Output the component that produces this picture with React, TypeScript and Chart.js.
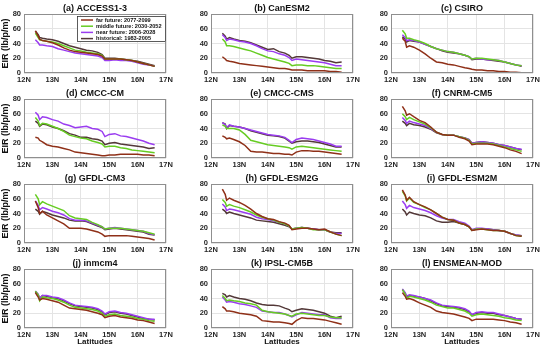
import React, { useEffect, useRef } from "react";
import { Chart, registerables } from "chart.js";
Chart.register(...registerables);

// ---------- data ----------
const latitudes = [12.4, 12.5, 12.55, 12.65, 12.8, 13.0, 13.2, 13.4, 13.6, 13.8, 14.0, 14.2, 14.4, 14.6, 14.75, 14.85, 15.0, 15.2, 15.4, 15.6, 15.8, 16.0, 16.2, 16.4, 16.6];
const xTicks = [12, 13, 14, 15, 16, 17];
const yTicks = [0, 20, 40, 60, 80];
const panelTitles = ["(a) ACCESS1-3", "(b) CanESM2", "(c) CSIRO", "(d) CMCC-CM", "(e) CMCC-CMS", "(f) CNRM-CM5", "(g) GFDL-CM3", "(h) GFDL-ESM2G", "(i) GFDL-ESM2M", "(j) inmcm4", "(k) IPSL-CM5B", "(l) ENSMEAN-MOD"];
const seriesLabels = ["far future: 2077-2099", "middle future: 2030-2052", "near future: 2006-2028", "historical: 1983-2005"];
const seriesColors = ["#8f3018", "#66cc22", "#9a3cf0", "#533838"];

// far future: 2077-2099 (one row per panel a..l)
const farFuture = [
  [57, 50, 46, 44, 43, 41, 38, 34, 31, 29, 28, 27, 26, 25, 23, 19, 19, 19, 19, 18, 17, 15, 13, 11, 9],
  [22, 19, 17, 16, 15, 13, 12, 11, 10, 9, 8, 7, 6, 6, 5, 4, 4, 4, 3, 3, 3, 3, 2, 2, 1],
  [47, 43, 35, 37, 35, 31, 26, 20, 15, 14, 12, 11, 9, 7, 6, 5, 4, 4, 3, 3, 2, 2, 1, 1, 0.5],
  [28, 27, 24, 22, 18, 16, 15, 13, 11, 8, 7, 6, 5, 4, 3, 3, 4, 4, 5, 5, 5, 5, 4, 4, 3],
  [30, 28, 26, 27, 25, 22, 17, 9, 8, 8, 7, 6, 6, 5, 5, 4, 8, 10, 10, 9, 9, 8, 7, 6, 5],
  [70, 64, 58, 60, 56, 51, 48, 42, 35, 32, 31, 31, 28, 26, 23, 18, 19, 19, 19, 18, 16, 14, 11, 9, 6],
  [57, 48, 40, 43, 38, 34, 30, 26, 20, 20, 20, 19, 17, 15, 12, 9, 10, 10, 10, 10, 9, 8, 7, 6, 4],
  [73, 66, 58, 61, 58, 55, 51, 46, 40, 36, 33, 32, 29, 27, 24, 18, 19, 20, 20, 19, 18, 19, 15, 12, 10],
  [72, 65, 58, 62, 56, 52, 49, 45, 40, 35, 32, 31, 27, 25, 22, 17, 18, 19, 18, 17, 17, 16, 13, 10, 9],
  [48, 42, 38, 40, 39, 37, 35, 31, 27, 26, 25, 24, 22, 20, 18, 14, 16, 17, 15, 14, 13, 11, 10, 8, 6],
  [29, 26, 23, 23, 22, 20, 19, 18, 16, 10, 9, 8, 8, 7, 6, 5, 10, 14, 13, 13, 12, 11, 9, 7, 5],
  [48, 43, 39, 40, 38, 34, 31, 28, 23, 21, 20, 19, 17, 15, 13, 10, 12, 12, 12, 12, 11, 10, 8, 7, 5],
];
// middle future: 2030-2052
const middleFuture = [
  [54, 48, 45, 44, 43, 42, 40, 37, 34, 31, 30, 28, 27, 26, 24, 19, 19, 19, 19, 18, 17, 15, 13, 11, 9],
  [46, 42, 37, 37, 36, 34, 32, 30, 27, 24, 21, 19, 17, 15, 13, 10, 11, 11, 10, 10, 9, 8, 7, 6, 6],
  [58, 53, 47, 47, 45, 43, 40, 36, 33, 31, 29, 28, 26, 24, 22, 19, 20, 20, 19, 18, 17, 15, 13, 11, 10],
  [55, 50, 44, 47, 46, 43, 40, 36, 31, 29, 27, 26, 23, 21, 19, 15, 16, 16, 14, 13, 11, 10, 9, 8, 7],
  [45, 43, 40, 40, 40, 38, 32, 24, 22, 20, 18, 17, 16, 15, 14, 12, 15, 16, 15, 14, 13, 12, 11, 10, 9],
  [60, 56, 52, 55, 52, 49, 46, 41, 35, 32, 31, 31, 29, 27, 24, 19, 20, 20, 20, 19, 17, 15, 13, 11, 9],
  [66, 60, 52, 56, 53, 50, 47, 44, 37, 34, 33, 32, 28, 25, 22, 19, 20, 20, 20, 19, 18, 17, 16, 14, 12],
  [59, 55, 50, 52, 50, 48, 45, 42, 38, 35, 33, 31, 28, 26, 23, 19, 20, 21, 20, 18, 18, 18, 15, 12, 10],
  [70, 64, 57, 61, 55, 52, 48, 45, 40, 35, 32, 31, 27, 25, 22, 17, 19, 19, 18, 17, 17, 16, 13, 10, 9],
  [50, 45, 37, 42, 41, 40, 38, 35, 31, 28, 27, 26, 25, 23, 20, 16, 18, 19, 17, 16, 15, 13, 12, 10, 9],
  [44, 40, 37, 38, 37, 36, 34, 33, 31, 24, 22, 21, 20, 19, 17, 16, 19, 20, 19, 18, 17, 17, 15, 14, 14],
  [52, 46, 40, 43, 42, 40, 38, 35, 31, 29, 27, 27, 25, 23, 20, 16, 18, 19, 18, 17, 16, 14, 13, 11, 10],
];
// near future: 2006-2028
const nearFuture = [
  [45, 41, 38, 38, 37, 36, 33, 31, 29, 27, 26, 25, 24, 23, 21, 17, 17, 18, 17, 17, 16, 14, 12, 11, 9],
  [52, 48, 44, 46, 45, 43, 42, 40, 37, 33, 30, 29, 26, 24, 21, 17, 19, 18, 17, 16, 15, 14, 12, 10, 10],
  [52, 48, 44, 45, 44, 42, 39, 36, 33, 31, 29, 28, 26, 24, 22, 19, 20, 19, 18, 18, 17, 15, 13, 11, 10],
  [62, 58, 52, 56, 55, 52, 50, 46, 44, 41, 42, 43, 40, 39, 36, 29, 32, 33, 30, 29, 27, 25, 23, 20, 18],
  [48, 45, 41, 45, 43, 42, 40, 38, 36, 34, 32, 31, 30, 28, 24, 21, 25, 27, 26, 25, 23, 21, 19, 16, 16],
  [55, 51, 47, 50, 48, 46, 44, 40, 35, 32, 31, 31, 29, 27, 25, 20, 21, 22, 21, 20, 18, 17, 15, 13, 12],
  [57, 51, 45, 48, 46, 43, 41, 38, 33, 31, 31, 30, 27, 24, 22, 19, 20, 21, 20, 19, 18, 17, 16, 13, 11],
  [53, 49, 44, 46, 45, 43, 41, 39, 35, 33, 32, 30, 28, 26, 23, 19, 20, 21, 20, 19, 18, 18, 15, 13, 13],
  [57, 52, 47, 51, 48, 46, 44, 41, 37, 34, 32, 32, 29, 27, 23, 18, 20, 20, 19, 18, 17, 16, 13, 11, 10],
  [50, 46, 40, 44, 44, 42, 41, 38, 34, 31, 30, 29, 28, 26, 23, 19, 22, 23, 21, 20, 18, 16, 14, 12, 12],
  [42, 38, 35, 36, 35, 33, 32, 30, 28, 23, 22, 21, 21, 19, 17, 15, 18, 21, 20, 19, 18, 18, 14, 13, 13],
  [53, 48, 43, 45, 44, 42, 40, 38, 34, 31, 30, 29, 28, 26, 23, 18, 21, 22, 21, 21, 19, 17, 15, 13, 12],
];
// historical: 1983-2005
const historical = [
  [57, 52, 48, 47, 46, 45, 43, 40, 37, 35, 33, 31, 30, 28, 25, 20, 20, 20, 19, 18, 17, 16, 14, 12, 10],
  [54, 50, 46, 48, 46, 44, 43, 41, 38, 35, 32, 33, 29, 27, 24, 20, 22, 22, 21, 20, 19, 17, 16, 14, 15],
  [49, 46, 42, 44, 43, 42, 39, 36, 33, 30, 28, 27, 26, 24, 22, 18, 19, 19, 18, 17, 16, 15, 13, 11, 9],
  [50, 47, 43, 46, 45, 42, 40, 37, 33, 31, 28, 28, 26, 25, 23, 18, 20, 21, 19, 18, 17, 16, 15, 13, 14],
  [48, 46, 40, 44, 43, 42, 40, 37, 35, 33, 31, 30, 29, 27, 23, 20, 22, 23, 23, 22, 21, 19, 17, 15, 15],
  [50, 47, 44, 47, 45, 44, 42, 39, 34, 32, 31, 31, 29, 27, 25, 20, 21, 22, 21, 20, 18, 17, 15, 13, 11],
  [46, 43, 39, 43, 41, 38, 36, 34, 31, 30, 30, 29, 26, 23, 21, 18, 19, 20, 19, 18, 17, 16, 15, 12, 11],
  [46, 43, 40, 42, 40, 38, 36, 34, 31, 30, 29, 28, 26, 24, 22, 19, 20, 21, 20, 19, 18, 18, 15, 14, 14],
  [46, 42, 38, 42, 40, 38, 37, 34, 30, 28, 28, 29, 27, 25, 22, 17, 19, 19, 19, 18, 17, 16, 13, 11, 10],
  [49, 45, 40, 44, 43, 41, 40, 37, 33, 30, 29, 28, 27, 25, 22, 18, 21, 22, 20, 19, 17, 15, 13, 12, 11],
  [47, 45, 42, 44, 42, 40, 39, 37, 34, 32, 31, 31, 30, 27, 25, 22, 24, 26, 25, 24, 22, 20, 16, 14, 16],
  [52, 47, 42, 44, 43, 42, 40, 37, 33, 30, 29, 28, 27, 25, 22, 18, 20, 21, 20, 20, 18, 17, 15, 13, 12],
];

// ---------- layout ----------
const FONT = "'Liberation Sans', Arial, Helvetica, sans-serif";
const COL_LEFT = [24, 211, 391];
const ROW_TOP = [14, 99, 184, 269];
const PLOT_W = 142;
const PLOT_H = 59;
const Y_AXIS_W = 24;
const TITLE_H = 14;
const RIGHT_PAD = 12;

const boxPlugin = {
  id: "plotBox",
  afterDatasetsDraw(chart: any) {
    const { ctx, chartArea: a } = chart;
    ctx.save();
    ctx.strokeStyle = "#8f8f8f";
    ctx.lineWidth = 1;
    ctx.strokeRect(Math.round(a.left) + 0.5, Math.round(a.top) + 0.5, Math.round(a.right - a.left) - 1, Math.round(a.bottom - a.top) - 1);
    ctx.restore();
  },
};

const legendPlugin = {
  id: "insideLegend",
  afterDraw(chart: any) {
    const { ctx } = chart;
    const x0 = 77, y0 = 16, w = 89, h = 26;
    ctx.save();
    ctx.fillStyle = "#ffffff";
    ctx.fillRect(x0, y0, w, h);
    ctx.strokeStyle = "#333333";
    ctx.lineWidth = 0.8;
    ctx.strokeRect(x0 + 0.5, y0 + 0.5, w - 1, h - 1);
    ctx.font = `bold 5.6px ${FONT}`;
    ctx.textBaseline = "middle";
    ctx.textAlign = "left";
    seriesLabels.forEach((lab, i) => {
      const yy = y0 + 4 + i * 6.2;
      ctx.strokeStyle = seriesColors[i];
      ctx.lineWidth = 1.5;
      ctx.beginPath();
      ctx.moveTo(x0 + 4, yy);
      ctx.lineTo(x0 + 16, yy);
      ctx.stroke();
      ctx.fillStyle = "#111111";
      ctx.fillText(lab, x0 + 19, yy + 0.3);
    });
    ctx.restore();
  },
};

const seriesSets = [farFuture, middleFuture, nearFuture, historical];

function Panel({ index }: { index: number }) {
  const ref = useRef<HTMLCanvasElement>(null);
  const row = Math.floor(index / 3);
  const col = index % 3;
  const xH = row === 3 ? 19 : 11;
  const width = Y_AXIS_W + PLOT_W + RIGHT_PAD;
  const height = TITLE_H + PLOT_H + xH;
  const left = COL_LEFT[col] - Y_AXIS_W;
  const top = ROW_TOP[row] - TITLE_H;

  useEffect(() => {
    if (!ref.current) return;
    const tickFont = { family: FONT, size: 7.5, weight: "bold" as const };
    const chart = new Chart(ref.current, {
      type: "line",
      data: {
        datasets: seriesSets.map((set, s) => ({
          label: seriesLabels[s],
          data: latitudes.map((x, i) => ({ x, y: set[index][i] })),
          borderColor: seriesColors[s],
          backgroundColor: seriesColors[s],
          borderWidth: 1.5,
          pointRadius: 0,
          tension: 0,
          fill: false,
        })),
      },
      options: {
        animation: false,
        responsive: false,
        devicePixelRatio: 1,
        layout: { padding: { left: 0, right: RIGHT_PAD, top: 0, bottom: 0 } },
        plugins: {
          legend: { display: false },
          tooltip: { enabled: false },
          title: {
            display: true,
            text: panelTitles[index],
            fullSize: false,
            color: "#111111",
            font: { family: FONT, size: 9, weight: "bold" },
            padding: { top: 3.2, bottom: 0 },
          },
        },
        scales: {
          x: {
            type: "linear",
            min: 12,
            max: 17,
            afterBuildTicks: (s: any) => { s.ticks = xTicks.map((v) => ({ value: v })); },
            afterFit: (s: any) => { s.height = xH; },
            ticks: { font: tickFont, color: "#262626", padding: 2, maxRotation: 0, callback: (v: any) => `${v}N` },
            grid: { color: "#e4e4e4", drawTicks: false },
            border: { display: false },
            title: {
              display: row === 3,
              text: "Latitudes",
              color: "#111111",
              font: { family: FONT, size: 8, weight: "bold" },
              padding: 0,
            },
          },
          y: {
            min: 0,
            max: 80,
            afterBuildTicks: (s: any) => { s.ticks = yTicks.map((v) => ({ value: v })); },
            afterFit: (s: any) => { s.width = Y_AXIS_W; },
            ticks: { font: tickFont, color: "#262626", padding: 3 },
            grid: { color: "#e4e4e4", drawTicks: false },
            border: { display: false },
            title: {
              display: col === 0,
              text: "EIR (lb/p/m)",
              color: "#111111",
              font: { family: FONT, size: 9, weight: "bold" },
              padding: 0,
            },
          },
        },
      },
      plugins: index === 0 ? [boxPlugin, legendPlugin] : [boxPlugin],
    } as any);
    return () => chart.destroy();
  }, [index]);

  return (
    <canvas
      ref={ref}
      width={width}
      height={height}
      style={{ position: "absolute", left, top, width, height }}
    />
  );
}

export default function App() {
  return (
    <div style={{ position: "absolute", left: 0, top: 0, width: 550, height: 349, background: "#ffffff", overflow: "hidden" }}>
      {panelTitles.map((_, i) => (
        <Panel key={i} index={i} />
      ))}
    </div>
  );
}
